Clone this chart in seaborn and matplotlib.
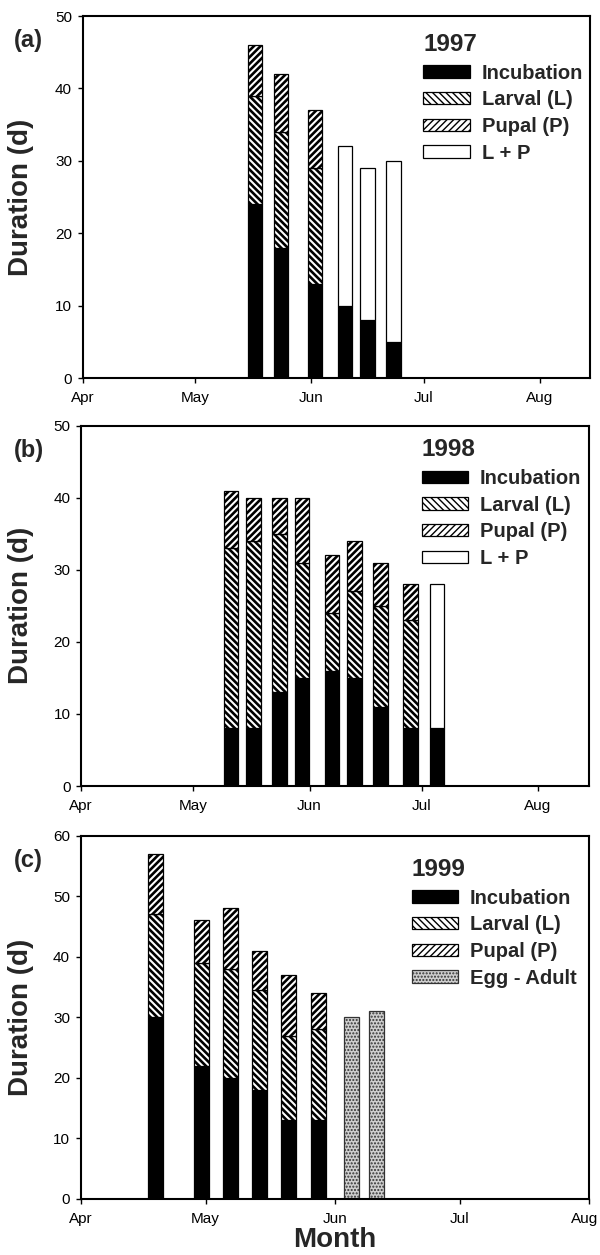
import numpy as np
import pandas as pd
import matplotlib
matplotlib.use("Agg")
import matplotlib.pyplot as plt
import matplotlib.transforms as mtransforms
from matplotlib.patches import Patch
import seaborn as sns

nan = np.nan

# Development durations (days) of cohorts started on each date
years = [1997, 1998, 1999]
panel_labels = ["(a)", "(b)", "(c)"]

dates_1997 = ["1997-05-17", "1997-05-24", "1997-06-02", "1997-06-10", "1997-06-16", "1997-06-23"]
incubation_1997 = [24, 18, 13, 10, 8, 5]
larval_1997 = [15, 16, 16, nan, nan, nan]
pupal_1997 = [7, 8, 8, nan, nan, nan]
larval_pupal_1997 = [nan, nan, nan, 22, 21, 25]

dates_1998 = ["1998-05-11", "1998-05-17", "1998-05-24", "1998-05-30", "1998-06-07",
              "1998-06-13", "1998-06-20", "1998-06-28", "1998-07-05"]
incubation_1998 = [8, 8, 13, 15, 16, 15, 11, 8, 8]
larval_1998 = [25, 26, 22, 16, 8, 12, 14, 15, nan]
pupal_1998 = [8, 6, 5, 9, 8, 7, 6, 5, nan]
larval_pupal_1998 = [nan, nan, nan, nan, nan, nan, nan, nan, 20]

dates_1999 = ["1999-04-19", "1999-04-30", "1999-05-07", "1999-05-14", "1999-05-21",
              "1999-05-28", "1999-06-05", "1999-06-11"]
incubation_1999 = [30, 22, 20, 18, 13, 13, nan, nan]
larval_1999 = [17, 17, 18, 16.5, 14, 15, nan, nan]
pupal_1999 = [10, 7, 10, 6.5, 10, 6, nan, nan]
egg_adult_1999 = [nan, nan, nan, nan, nan, nan, 30, 31]

month_labels = ["Apr", "May", "Jun", "Jul", "Aug"]
y_max = {1997: 50, 1998: 50, 1999: 60}

series = {
    1997: (dates_1997, {"Incubation": incubation_1997, "Larval (L)": larval_1997,
                        "Pupal (P)": pupal_1997, "L + P": larval_pupal_1997}),
    1998: (dates_1998, {"Incubation": incubation_1998, "Larval (L)": larval_1998,
                        "Pupal (P)": pupal_1998, "L + P": larval_pupal_1998}),
    1999: (dates_1999, {"Incubation": incubation_1999, "Larval (L)": larval_1999,
                        "Pupal (P)": pupal_1999, "Egg - Adult": egg_adult_1999}),
}

STYLES = {
    "Incubation": dict(face="black", edge="black", hatch=None, hlw=1.0),
    "Larval (L)": dict(face="white", edge="black", hatch="\\" * 5, hlw=1.9),
    "Pupal (P)": dict(face="white", edge="black", hatch="/" * 5, hlw=1.9),
    "L + P": dict(face="white", edge="black", hatch=None, hlw=1.0),
    "Egg - Adult": dict(face="#cfcfcf", edge="#333333", hatch=".....", hlw=1.0),
}

sns.set_style("ticks")
plt.rcParams["font.family"] = ["Liberation Sans", "DejaVu Sans"]

W, H = 600, 1255
fig = plt.figure(figsize=(W / 100, H / 100), dpi=100)

# axes boxes in pixels: left, top, right, bottom
boxes = [(82.5, 16, 590, 378), (81, 425.7, 589, 786), (80.5, 835.7, 589, 1199)]
x_right = [135.4, 135.6, 122]
bar_days = [3.9, 3.9, 3.6]
legend_anchor = [(423.3, 33), (421.6, 438.3), (411.7, 858)]


def stage_bars(ax, x, heights, bottoms, width_days, style):
    x = np.asarray(x, float)
    heights = np.asarray(heights, float)
    bottoms = np.asarray(bottoms, float)
    keep = ~np.isnan(heights)
    x, heights, bottoms = x[keep], heights[keep], bottoms[keep]
    order = np.argsort(x)
    x, heights, bottoms = x[order], heights[order], bottoms[order]
    ux = np.unique(x)
    native = np.diff(ux).min() if len(ux) > 1 else 1.0
    kws = dict(edgecolor=style["edge"], linewidth=0.9, bottom=bottoms)
    if style["hatch"]:
        kws["hatch"] = style["hatch"]
    with plt.rc_context({"hatch.linewidth": style["hlw"]}):
        sns.barplot(x=x, y=heights, orient="x", native_scale=True,
                    width=width_days / native, errorbar=None, saturation=1,
                    color=style["face"], ax=ax, **kws)


for i, year in enumerate(years):
    l, t, r, b = boxes[i]
    ax = fig.add_axes([l / W, 1 - b / H, (r - l) / W, (b - t) / H])
    start = pd.Timestamp(f"{year}-04-01")
    dates, stages = series[year]
    day = (pd.to_datetime(dates) - start).days.to_numpy().astype(float)

    inc = np.nan_to_num(np.asarray(stages["Incubation"], float))
    for name, vals in stages.items():
        vals = np.asarray(vals, float)
        if name in ("Larval (L)", "L + P"):
            bottom = inc
        elif name == "Pupal (P)":
            bottom = inc + np.nan_to_num(np.asarray(stages["Larval (L)"], float))
        else:
            bottom = np.zeros(len(day))
        stage_bars(ax, day, vals, bottom, bar_days[i], STYLES[name])

    months = pd.date_range(start, periods=5, freq="MS")
    ax.set_xticks((months - start).days.to_numpy().astype(float))
    ax.set_xticklabels(month_labels)
    ax.set_xlim(0, x_right[i])
    ax.set_ylim(0, y_max[year])
    ax.set_yticks(np.arange(0, y_max[year] + 1, 10))
    ax.set_xlabel("")
    ax.set_ylabel("Duration (d)", fontsize=20, fontweight="bold")
    ax.yaxis.set_label_coords(34 / W, 1 - (t + b) / 2 / H, transform=fig.transFigure)

    for sp in ax.spines.values():
        sp.set_visible(True)
        sp.set_linewidth(1.5)
        sp.set_color("black")
        sp.set_zorder(5)
    ax.tick_params(axis="both", direction="out", length=3.5, width=1.0,
                   labelsize=11, colors="black")
    ax.tick_params(axis="x", pad=6)
    ax.tick_params(axis="y", pad=4)

    if i == 2:
        # keep the last month label inside the figure edge
        last = ax.get_xticklabels()[-1]
        last.set_transform(last.get_transform() +
                           mtransforms.ScaledTranslation(-4 / 100, 0, fig.dpi_scale_trans))

    handles = []
    for name in stages:
        st = STYLES[name]
        with plt.rc_context({"hatch.linewidth": st["hlw"]}):
            handles.append(Patch(facecolor=st["face"], edgecolor=st["edge"],
                                 hatch=st["hatch"], linewidth=0.9, label=name))
    lx, ly = legend_anchor[i]
    ax.legend(handles=handles, title=str(year), loc="upper left",
              bbox_to_anchor=((lx - l) / (r - l), 1 - (ly - t) / (b - t)),
              frameon=False, borderpad=0, borderaxespad=0,
              handlelength=2.3, handleheight=0.55, handletextpad=0.6,
              labelspacing=0.38, alignment="left",
              prop=dict(weight="bold", size=14.5),
              title_fontproperties=dict(weight="bold", size=17.5))

    fig.text(14 / W, 1 - (t + 25) / H, panel_labels[i], fontsize=17,
             fontweight="bold", ha="left", va="center")

    if i == 2:
        ax.set_xlabel("Month", fontsize=20, fontweight="bold")
        ax.xaxis.set_label_coords(0.5, -(1227 - b) / (b - t))
        ax.xaxis.label.set_va("top")

fig.savefig("out.png", dpi=100)
